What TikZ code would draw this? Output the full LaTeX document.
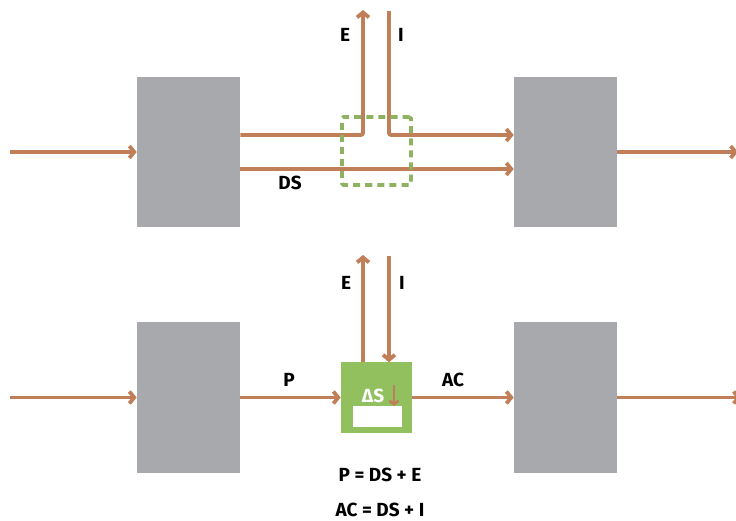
\documentclass[tikz,border=0pt]{standalone}
\usepackage{fontspec}
\setsansfont{Fira Sans}
\usepackage{tikz}
\usetikzlibrary{arrows.meta}
\definecolor{flow}{RGB}{193,127,89}
\definecolor{boxgray}{RGB}{167,169,172}
\definecolor{leaf}{RGB}{146,192,95}
\definecolor{leafdash}{RGB}{141,179,96}

\begin{document}
\begin{tikzpicture}[x=0.025cm,y=-0.025cm,
  store/.style={fill=boxgray, minimum width=2.575cm, minimum height=3.75cm, inner sep=0pt},
  flux/.style={draw=flow, line width=2.7pt, rounded corners=1.5pt, -{Straight Barb[length=3.5pt,width=8.5pt]}},
  lbl/.style={font=\sffamily\bfseries\fontsize{13.5}{15}\selectfont, inner sep=0pt}]
\useasboundingbox (0,0) rectangle (736,520);

% top row
\node[store] (tl) at (188.5,152) {};
\node[store] (tr) at (565.5,152) {};
\coordinate (inT)  at (10,152);
\coordinate (outT) at (738,152);
\coordinate (eT)   at (363,10);
\coordinate (eTurn) at (363,135);
\coordinate (iT)   at (389,11);
\coordinate (iTurn) at (389,135);
\coordinate (dsY)  at (0,169);
\draw[flux] (inT) -- (tl.west |- inT);
\draw[flux] (tr.east |- outT) -- (outT);
\draw[flux] (tl.east |- eTurn) -- (eTurn) -- (eT);
\draw[flux] (iT) -- (iTurn) -- (tr.west |- iTurn);
\draw[flux] (tl.east |- dsY) -- (tr.west |- dsY);
\node[draw=leafdash, dash pattern=on 5pt off 3.6pt, line width=2.6pt, rounded corners=1pt,
      minimum width=1.725cm, minimum height=1.7cm, inner sep=0pt] (junc) at (376.5,151) {};
\node[lbl] (eTlbl) at (345,35) {E};
\node[lbl] (iTlbl) at (401,35) {I};
\node[lbl] (dslbl) at (290,183) {DS};

% bottom row
\node[store] (bl) at (188.5,397.5) {};
\node[store] (br) at (565.5,397.5) {};
\node[fill=leaf, minimum width=1.775cm, minimum height=1.75cm, inner sep=0pt] (pool) at (376.5,397.5) {};
\node[fill=white, minimum width=1.225cm, minimum height=0.525cm, inner sep=0pt] (gap) at (377.5,416.5) {};
\node[lbl, text=white] (dS) at (373,396) {ΔS};
\coordinate (dTop) at (394,385);
\coordinate (dBot) at (394,406);
\draw[draw=flow, line width=2pt, -{Straight Barb[length=2.5pt,width=6.5pt]}] (dTop) -- (dBot);
\coordinate (inB)  at (10,397.5);
\coordinate (outB) at (741,397.5);
\coordinate (eB)   at (363,255);
\coordinate (iB)   at (389,256);
\draw[flux] (inB) -- (bl.west |- inB);
\draw[flux] (br.east |- outB) -- (outB);
\draw[flux] (bl) -- (pool);
\draw[flux] (pool) -- (br);
\draw[flux] (pool.north -| eB) -- (eB);
\draw[flux] (iB) -- (pool.north -| iB);
\node[lbl] (eBlbl) at (346,283) {E};
\node[lbl] (iBlbl) at (402,283) {I};
\node[lbl] (plbl)  at (289,380) {P};
\node[lbl] (aclbl) at (453,380) {AC};
\node[lbl] (eq1) at (380,475) {P = DS + E};
\node[lbl] (eq2) at (380,510) {AC = DS + I};
\end{tikzpicture}
\end{document}
